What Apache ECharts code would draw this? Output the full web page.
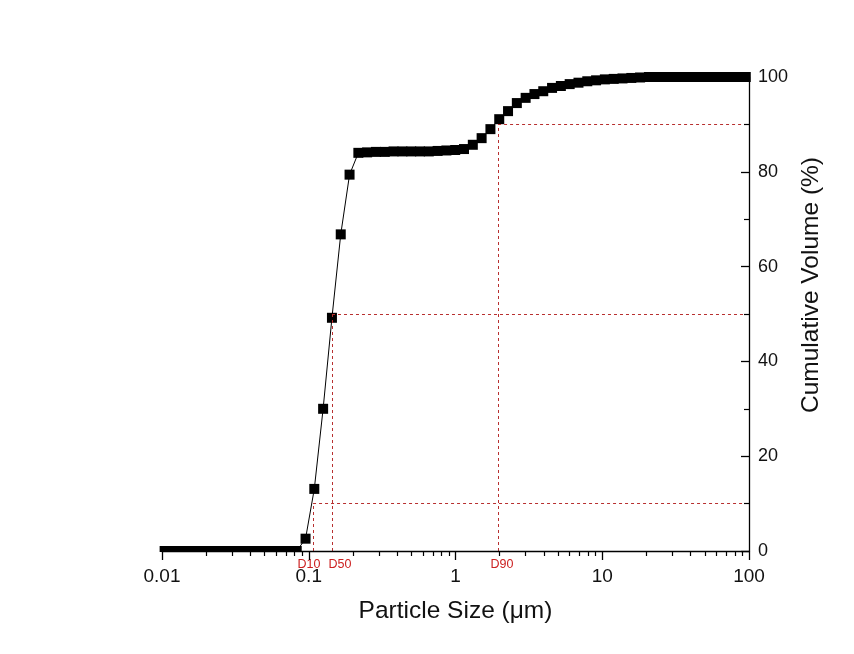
<!DOCTYPE html>
<html>
<head>
<meta charset="utf-8">
<script src="https://cdn.jsdelivr.net/npm/echarts@6/dist/echarts.min.js"></script>
<style>
  html, body { margin: 0; padding: 0; background: #ffffff; }
  #chart { width: 854px; height: 654px; }
</style>
</head>
<body>
<div id="chart"></div>
<script>
const sizes = [
  0.01042, 0.01197, 0.01374, 0.01578, 0.01811, 0.0208, 0.02388, 0.02742, 0.03148, 0.03614,
  0.0415, 0.04764, 0.0547, 0.0628, 0.0721, 0.0828, 0.0951, 0.1091, 0.1253, 0.1439,
  0.1652, 0.1897, 0.2178, 0.25, 0.2871, 0.3296, 0.3784, 0.4345, 0.4989, 0.5728,
  0.6577, 0.7551, 0.867, 0.9954, 1.1429, 1.3122, 1.5066, 1.7298, 1.9861, 2.2803,
  2.6182, 3.0061, 3.4514, 3.9628, 4.5499, 5.224, 5.9979, 6.8865, 7.9068, 9.078,
  10.42, 11.97, 13.74, 15.78, 18.11, 20.8, 23.88, 27.42, 31.48, 36.14,
  41.5, 47.64, 54.7, 62.81, 72.11, 82.79, 95.06
];
// cumulative volume (%)
const volumes = [
  0, 0, 0, 0, 0, 0, 0, 0, 0, 0,
  0, 0, 0, 0, 0, 0, 2.6, 13.1, 30.0, 49.2,
  66.8, 79.4, 84.0, 84.1, 84.2, 84.2, 84.3, 84.3, 84.3, 84.3,
  84.3, 84.4, 84.5, 84.6, 84.8, 85.7, 87.1, 89.0, 91.1, 92.8,
  94.5, 95.6, 96.4, 97.0, 97.7, 98.1, 98.5, 98.8, 99.1, 99.3,
  99.5, 99.6, 99.7, 99.8, 99.9, 100, 100, 100, 100, 100,
  100, 100, 100, 100, 100, 100, 100
];

// characteristic diameters
const dNames = ['D10', 'D50', 'D90'];
const dSizes = [0.107, 0.144, 1.95];
const dPercents = [10, 50, 90];

const xMajorLabels = [0.01, 0.1, 1, 10, 100];
const xMinorTicks = [
  0.02, 0.03, 0.04, 0.05, 0.06, 0.07, 0.08, 0.09,
  0.2, 0.3, 0.4, 0.5, 0.6, 0.7, 0.8, 0.9,
  2, 3, 4, 5, 6, 7, 8, 9,
  20, 30, 40, 50, 60, 70, 80, 90
];

const font = '"Liberation Sans", Arial, sans-serif';
const refColor = '#b83030';
// horizontal nudges of the D labels so they don't collide
const dLabelShift = [-4, 8, 4];

const points = sizes.map((s, i) => [s, volumes[i]]);

const refLines = [];
dNames.forEach((name, i) => {
  // vertical drop line with its label under the axis
  refLines.push([
    {
      coord: [dSizes[i], 0],
      label: {
        show: true,
        position: 'start',
        formatter: name,
        color: '#cc2020',
        fontSize: 12.5,
        fontFamily: font,
        distance: 7,
        offset: [dLabelShift[i], 0]
      }
    },
    {coord: [dSizes[i], dPercents[i]]}
  ]);
  // horizontal line to the right axis
  refLines.push([
    {coord: [dSizes[i], dPercents[i]], label: {show: false}},
    {coord: [100, dPercents[i]]}
  ]);
});

const chart = echarts.init(document.getElementById('chart'), null, {renderer: 'canvas'});

const option = {
  animation: false,
  backgroundColor: '#ffffff',
  grid: {
    left: 162,
    right: 105,
    top: 77,
    bottom: 103
  },
  xAxis: [
    {
      type: 'log',
      logBase: 10,
      min: 0.01,
      max: 100,
      z: 10,
      name: 'Particle Size (μm)',
      nameLocation: 'middle',
      nameGap: 48,
      nameTextStyle: {color: '#111', fontSize: 24.5, fontFamily: font},
      axisLine: {onZero: false, lineStyle: {color: '#000', width: 1.3}},
      axisTick: {
        inside: false,
        length: 9,
        lineStyle: {color: '#000', width: 1.3},
        customValues: xMajorLabels
      },
      axisLabel: {
        color: '#111',
        fontSize: 19,
        fontFamily: font,
        margin: 16,
        customValues: xMajorLabels,
        formatter: v => String(v)
      },
      splitLine: {show: false}
    },
    {
      // minor ticks of the log axis
      type: 'log',
      logBase: 10,
      min: 0.01,
      max: 100,
      z: 10,
      position: 'bottom',
      axisLine: {show: false, onZero: false},
      axisTick: {
        inside: false,
        length: 5,
        lineStyle: {color: '#000', width: 1.2},
        customValues: xMinorTicks
      },
      axisLabel: {show: false},
      splitLine: {show: false}
    }
  ],
  yAxis: {
    type: 'value',
    position: 'right',
    min: 0,
    max: 100,
    interval: 20,
    z: 10,
    name: 'Cumulative Volume (%)',
    nameLocation: 'middle',
    nameGap: 46,
    nameRotate: 90,
    nameTextStyle: {color: '#111', fontSize: 24.5, fontFamily: font, padding: [0, 0, 0, 58]},
    axisLine: {show: true, onZero: false, lineStyle: {color: '#000', width: 1.3}},
    axisTick: {show: true, inside: true, length: 8, lineStyle: {color: '#000', width: 1.3}},
    minorTick: {show: true, splitNumber: 2, length: 5, lineStyle: {color: '#000', width: 1.2}},
    axisLabel: {color: '#111', fontSize: 18, fontFamily: font, margin: 9},
    splitLine: {show: false}
  },
  series: [
    {
      type: 'line',
      data: points,
      symbol: 'rect',
      symbolSize: 10,
      showAllSymbol: true,
      color: '#000',
      itemStyle: {color: '#000'},
      lineStyle: {color: '#000', width: 1},
      markLine: {
        silent: true,
        symbol: 'none',
        lineStyle: {color: refColor, width: 1, type: [3, 3]},
        label: {show: false},
        data: refLines
      }
    }
  ]
};

chart.setOption(option);

// hide the lower half of the markers sitting on the x axis line (axis draws above)
const p0 = chart.convertToPixel({xAxisIndex: 0, yAxisIndex: 0}, [0.01, 0]);
const p1 = chart.convertToPixel({xAxisIndex: 0, yAxisIndex: 0}, [0.09, 0]);
chart.setOption({
  graphic: [{
    type: 'rect',
    z: 5,
    shape: {x: p0[0] - 8, y: p0[1] + 1, width: p1[0] - p0[0] + 12, height: 8},
    style: {fill: '#ffffff'}
  }]
});
</script>
</body>
</html>
